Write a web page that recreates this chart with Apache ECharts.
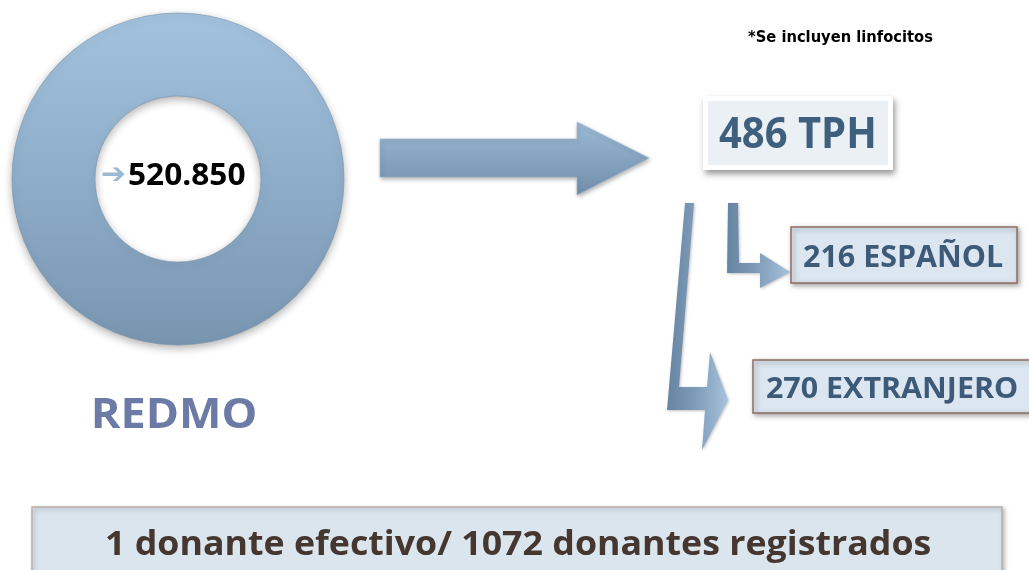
<!DOCTYPE html>
<html>
<head>
<meta charset="utf-8">
<script src="https://cdn.jsdelivr.net/npm/echarts@6/dist/echarts.min.js"></script>
<style>html,body{margin:0;padding:0;background:#fff}#c{width:1029px;height:570px}</style>
</head>
<body>
<div id="c"></div>
<script>
// ---- data ----
const registryName = 'REDMO';
const totalDonors = [520850];
const transplants = [486];
const transplantUnit = 'TPH';
const originCategories = ['ESPAÑOL', 'EXTRANJERO'];
const originValues = [216, 270];
const ratioValues = [1, 1072];
const ratioLabels = ['donante efectivo', 'donantes registrados'];
const footnote = '*Se incluyen linfocitos';

function fmtES(n){ return String(n).replace(/\B(?=(\d{3})+(?!\d))/g, '.'); }

const ctx = document.createElement('canvas').getContext('2d');
function fit(str, family, weight, ref, L, R, T, B){
  ctx.textAlign = 'left';
  ctx.textBaseline = 'alphabetic';
  ctx.font = weight + ' 100px ' + family;
  let mr = ctx.measureText(ref);
  const h100 = mr.actualBoundingBoxAscent + mr.actualBoundingBoxDescent;
  const size = 100 * (B - T) / h100;
  ctx.font = weight + ' ' + size + 'px ' + family;
  ctx.textBaseline = 'middle';
  mr = ctx.measureText(ref);
  const y = (T + B) / 2 - (mr.actualBoundingBoxDescent - mr.actualBoundingBoxAscent) / 2;
  const m = ctx.measureText(str);
  const inkW = m.actualBoundingBoxLeft + m.actualBoundingBoxRight;
  const sx = (R - L) / inkW;
  const x = L + sx * m.actualBoundingBoxLeft;
  return {size, x, y, sx};
}
function txt(str, family, weight, ref, L, R, T, B, color, z){
  const f = fit(str, family, weight, ref, L, R, T, B);
  return {type:'text', x:f.x, y:f.y, scaleX:f.sx, scaleY:1, originX:0, originY:0, z:z||10, silent:true,
    style:{text:str, fontFamily:family, fontWeight:weight, fontSize:f.size, fill:color, textAlign:'left', textVerticalAlign:'middle', verticalAlign:'middle'}};
}

const F = 'Open Sans';
const arrowGradV = {type:'linear', x:0, y:0, x2:0, y2:1, colorStops:[{offset:0,color:'#9bbad5'},{offset:1,color:'#718eaa'}]};
const arrowGradH = {type:'linear', x:0, y:0, x2:1, y2:0, colorStops:[{offset:0,color:'#6785a3'},{offset:0.45,color:'#7d9bb8'},{offset:1,color:'#a6c3dc'}]};
const shadow = {shadowBlur:5, shadowColor:'rgba(0,0,0,0.35)', shadowOffsetX:2, shadowOffsetY:2};

const graphics = [
  // footnote
  txt(footnote, 'DejaVu Sans', 'bold', 'H', 748, 933, 30, 41, '#000'),
  // big arrow
  {type:'polygon', silent:true, shape:{points:[[380,139],[577,139],[577,122],[649,158],[577,195],[577,177],[380,177]]},
    style:Object.assign({fill:arrowGradV, stroke:'rgba(150,180,205,0.6)', lineWidth:1}, {shadowBlur:4, shadowColor:'rgba(0,0,0,0.3)', shadowOffsetX:1, shadowOffsetY:2})},
  // small bent arrow
  {type:'polygon', silent:true, shape:{points:[[728,203],[738,203],[739,263],[760,263],[760,253],[790,272],[760,288],[760,273],[727,273]]},
    style:{fill:arrowGradH, shadowBlur:3, shadowColor:'rgba(0,0,0,0.25)', shadowOffsetX:1, shadowOffsetY:1}},
  // big bent arrow
  {type:'polygon', silent:true, shape:{points:[[685,203],[694,203],[679,387],[707,387],[710,352],[728,400],[702,450],[705,410],[667,410]]},
    style:{fill:arrowGradH, shadowBlur:3, shadowColor:'rgba(0,0,0,0.25)', shadowOffsetX:1, shadowOffsetY:1}},
  // TPH box
  {type:'rect', silent:true, shape:{x:703, y:96, width:190, height:74}, style:Object.assign({fill:'#ffffff'}, {shadowBlur:6, shadowColor:'rgba(0,0,0,0.4)', shadowOffsetX:2, shadowOffsetY:4})},
  {type:'rect', silent:true, shape:{x:708, y:101, width:180, height:64}, style:{fill:'#ebf0f5'}},
  txt(transplants[0] + ' ' + transplantUnit, F, 'bold', 'H', 719, 874, 117, 148, '#3f5f7e'),
  // origin boxes
  {type:'rect', silent:true, shape:{x:791, y:227, width:226, height:56}, style:Object.assign({fill:'#dce6f0', stroke:'#8d6e63', lineWidth:1.5}, shadow)},
  txt(originValues[0] + ' ' + originCategories[0], F, 'bold', 'H', 804, 1003, 245, 267, '#3d5b79'),
  {type:'rect', silent:true, shape:{x:753, y:360, width:300, height:53}, style:Object.assign({fill:'#dce6f0', stroke:'#8d6e63', lineWidth:1.5}, shadow)},
  txt(originValues[1] + ' ' + originCategories[1], F, 'bold', 'H', 767, 1017, 377, 398, '#3d5b79'),
  // bottom box
  {type:'rect', silent:true, shape:{x:32, y:507, width:970, height:90}, style:Object.assign({fill:'#dbe5ee', stroke:'#b9aeab', lineWidth:1.5}, {shadowBlur:4, shadowColor:'rgba(0,0,0,0.25)', shadowOffsetX:2, shadowOffsetY:2})},
  txt(ratioValues[0] + ' ' + ratioLabels[0] + '/ ' + ratioValues[1] + ' ' + ratioLabels[1], F, 'bold', 'H', 107, 930, 530, 555, '#45372f'),
  // donut center
  txt('\u2794', 'DejaVu Sans', 'bold', '\u2794', 102, 125, 167, 181, '#9bb9d3', 20),
  txt(fmtES(totalDonors[0]), F, 'bold', 'H', 129, 245, 163, 185, '#000', 20),
  // registry name
  txt(registryName, F, 'bold', 'H', 94, 255, 398, 428, '#6b7ba6')
];

const chart = echarts.init(document.getElementById('c'), null, {renderer:'canvas'});
chart.setOption({
  animation:false,
  backgroundColor:'#ffffff',
  series:[{
    type:'pie', silent:true, center:[178,179], radius:[83,166],
    label:{show:false}, labelLine:{show:false},
    itemStyle:{
      color:{type:'linear', x:0, y:0, x2:0, y2:1, colorStops:[{offset:0,color:'#a2c2de'},{offset:0.5,color:'#8eadc9'},{offset:1,color:'#7895b0'}]},
      borderColor:'rgba(120,145,170,0.6)', borderWidth:1,
      shadowBlur:8, shadowColor:'rgba(0,0,0,0.3)', shadowOffsetY:3
    },
    data:[{name:registryName, value:totalDonors[0]}]
  }],
  graphic:graphics
});
</script>
</body>
</html>
